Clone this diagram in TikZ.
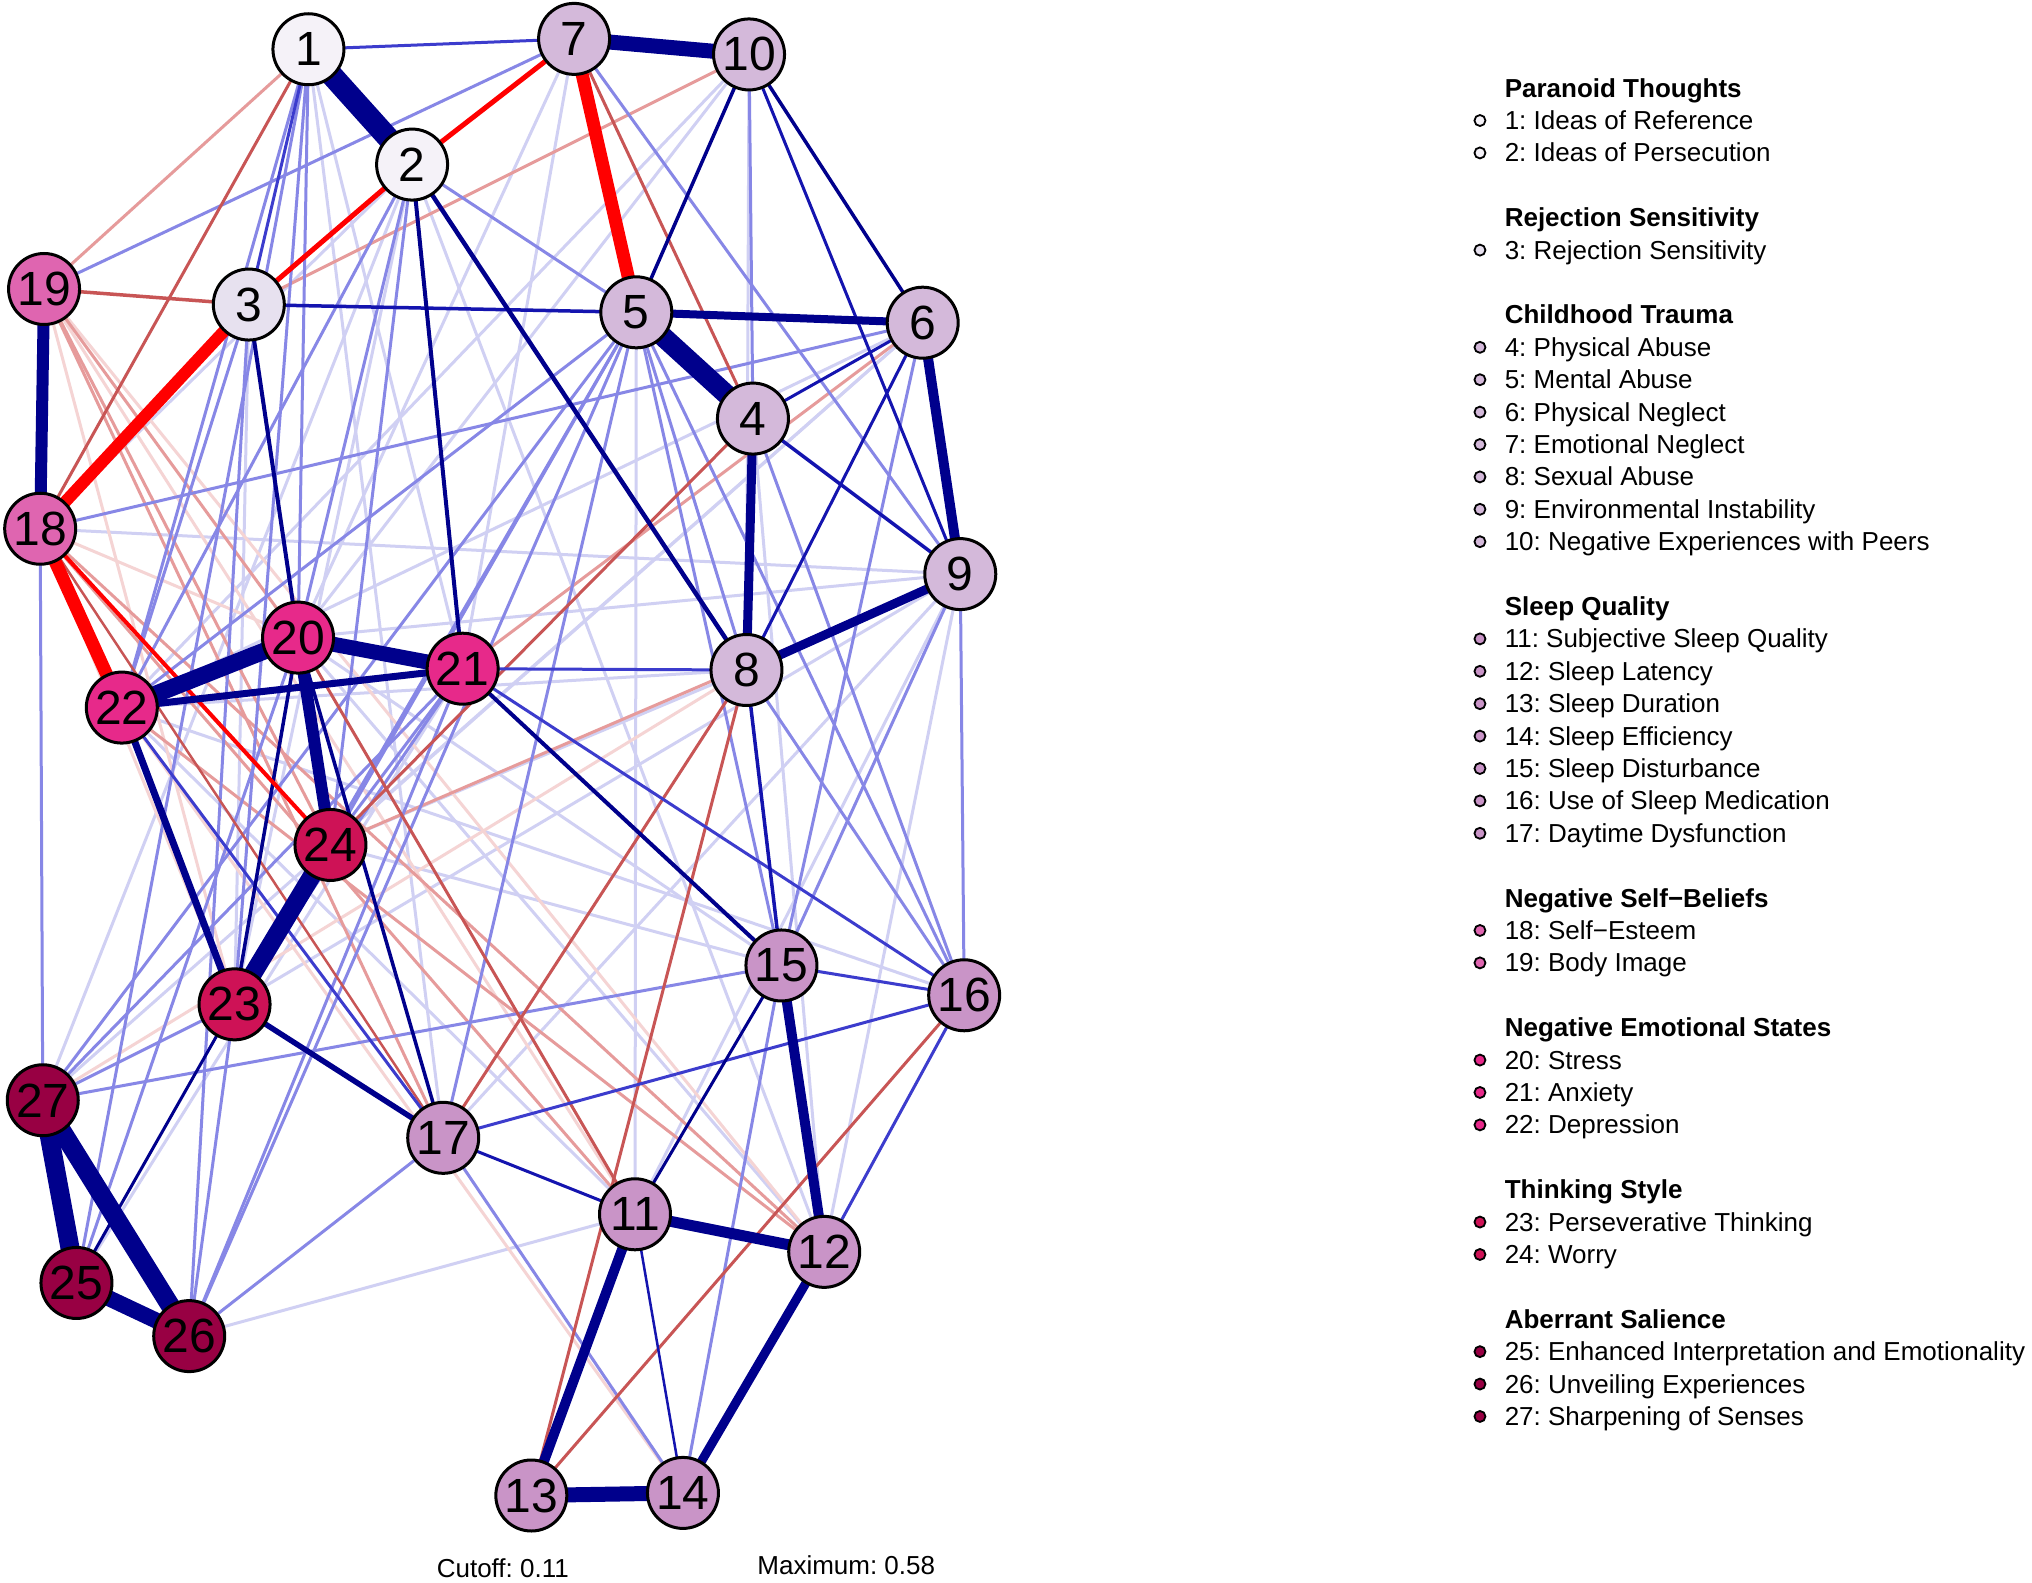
\documentclass[tikz,border=0pt]{standalone}
\usepackage{fontspec}
\setmainfont{Liberation Sans}
\frenchspacing
\pgfdeclarelayer{bg}
\pgfdeclarelayer{edges}
\pgfsetlayers{bg,edges,main}
\definecolor{cPT}{HTML}{F5F2F8}
\definecolor{cRS}{HTML}{E7E1EF}
\definecolor{cCT}{HTML}{D4B9DA}
\definecolor{cSQ}{HTML}{C994C7}
\definecolor{cNS}{HTML}{DF65B0}
\definecolor{cNE}{HTML}{E7298A}
\definecolor{cTS}{HTML}{CE1256}
\definecolor{cAS}{HTML}{980043}
\definecolor{PS}{RGB}{0,0,140}
\definecolor{PD}{RGB}{20,20,175}
\definecolor{PM}{RGB}{60,60,205}
\definecolor{PL}{RGB}{135,135,230}
\definecolor{PF}{RGB}{208,208,243}
\definecolor{NS}{RGB}{255,0,0}
\definecolor{NM}{RGB}{200,85,85}
\definecolor{NL}{RGB}{230,155,155}
\definecolor{NF}{RGB}{245,212,212}
\tikzset{
  vert/.style={circle, draw=black, line width=3pt, minimum size=71pt, inner sep=0pt,
    font=\fontsize{48}{48}\selectfont},
  legdot/.style={circle, draw=black, line width=1.8pt, minimum size=11pt, inner sep=0pt},
  legtxt/.style={anchor=base west, inner sep=0pt, font=\fontsize{26}{26}\selectfont},
  leghead/.style={anchor=base west, inner sep=0pt, font=\fontsize{26}{26}\selectfont\bfseries},
  foot/.style={anchor=base, inner sep=0pt, font=\fontsize{26}{26}\selectfont}
}
\newcommand\nd[4]{\node[vert, fill=#4] (v#1) at (#2,#3) {#1};}
\newcommand\ed[4]{\draw[draw=#3, line width=#4pt] (v#1.center) -- (v#2.center);}
\newcommand\legitem[4]{\node[legdot, fill=#4] (d#1) at (1142,#2) {};\node[legtxt] (t#1) at (1161,#2+7) {#3};}
\begin{document}
\begin{tikzpicture}[x=1.296pt, y=-1.296pt]
\begin{pgfonlayer}{bg}
\fill[white] (0,0) rectangle (1568,1221);
\end{pgfonlayer}
\useasboundingbox (0,0) rectangle (1568,1221);
% nodes
\nd{1}{238}{38}{cPT}
\nd{2}{318}{127}{cPT}
\nd{3}{192}{235}{cRS}
\nd{4}{581}{323}{cCT}
\nd{5}{491}{241}{cCT}
\nd{6}{712}{249}{cCT}
\nd{7}{443}{30}{cCT}
\nd{8}{576}{517}{cCT}
\nd{9}{741}{443}{cCT}
\nd{10}{578}{42}{cCT}
\nd{11}{490}{937}{cSQ}
\nd{12}{636}{966}{cSQ}
\nd{13}{410}{1154}{cSQ}
\nd{14}{527}{1152}{cSQ}
\nd{15}{603}{745}{cSQ}
\nd{16}{744}{768}{cSQ}
\nd{17}{342}{878}{cSQ}
\nd{18}{31}{408}{cNS}
\nd{19}{34}{223}{cNS}
\nd{20}{230}{492}{cNE}
\nd{21}{357}{516}{cNE}
\nd{22}{94}{546}{cNE}
\nd{23}{181}{775}{cTS}
\nd{24}{255}{652}{cTS}
\nd{25}{59}{990}{cAS}
\nd{26}{146}{1031}{cAS}
\nd{27}{33}{849}{cAS}
\begin{pgfonlayer}{edges}
% faint positive
\ed{11}{5}{PF}{3}\ed{3}{23}{PF}{3}\ed{9}{18}{PF}{3}\ed{9}{20}{PF}{3}
\ed{9}{17}{PF}{3}\ed{9}{23}{PF}{3}\ed{9}{12}{PF}{3}\ed{9}{11}{PF}{3}
\ed{12}{4}{PF}{3}\ed{24}{6}{PF}{3}\ed{24}{8}{PF}{3}\ed{2}{27}{PF}{3}
\ed{2}{23}{PF}{3}\ed{2}{18}{PF}{3}\ed{6}{22}{PF}{3}\ed{10}{20}{PF}{3}
\ed{10}{8}{PF}{3}\ed{7}{21}{PF}{3}\ed{1}{17}{PF}{3}\ed{22}{11}{PF}{3}
\ed{12}{20}{PF}{3}\ed{16}{22}{PF}{3}\ed{6}{27}{PF}{3}\ed{8}{22}{PF}{3}
\ed{15}{20}{PF}{3}\ed{15}{24}{PF}{3}\ed{1}{21}{PF}{3}\ed{2}{12}{PF}{3}
\ed{7}{20}{PF}{3}\ed{10}{22}{PF}{3}\ed{26}{11}{PF}{3}\ed{25}{21}{PF}{3}
% light negative
\ed{19}{23}{NF}{3}\ed{19}{11}{NF}{3}\ed{27}{8}{NF}{3}\ed{18}{20}{NF}{3}
\ed{19}{12}{NF}{3}\ed{18}{23}{NF}{3}\ed{22}{14}{NF}{3}
\ed{1}{19}{NL}{3}\ed{3}{10}{NL}{3}\ed{6}{21}{NL}{3}\ed{9}{24}{NL}{3}
\ed{19}{20}{NL}{3}\ed{19}{24}{NL}{3}\ed{19}{17}{NL}{3}\ed{22}{12}{NL}{3}
\ed{18}{12}{NL}{3}\ed{18}{11}{NL}{3}
% light positive
\ed{19}{7}{PL}{3}\ed{2}{5}{PL}{3}\ed{5}{22}{PL}{3}\ed{5}{23}{PL}{3}
\ed{5}{27}{PL}{3}\ed{5}{26}{PL}{3}\ed{5}{17}{PL}{3}\ed{5}{15}{PL}{3}
\ed{5}{16}{PL}{3}\ed{10}{4}{PL}{3}\ed{7}{9}{PL}{3}\ed{6}{15}{PL}{3}
\ed{6}{18}{PL}{3}\ed{9}{16}{PL}{3}\ed{9}{15}{PL}{3}\ed{8}{16}{PL}{3}
\ed{18}{27}{PL}{3}\ed{27}{15}{PL}{3}\ed{27}{23}{PL}{3}\ed{25}{1}{PL}{3}
\ed{25}{20}{PL}{3}\ed{26}{21}{PL}{3}\ed{26}{17}{PL}{3}\ed{26}{23}{PL}{3}
\ed{21}{23}{PL}{3}\ed{21}{27}{PL}{3}\ed{24}{21}{PL}{3}\ed{24}{5}{PL}{3}
\ed{3}{22}{PL}{3}\ed{3}{26}{PL}{3}\ed{1}{20}{PL}{3}\ed{1}{23}{PL}{3}
\ed{1}{22}{PL}{3}\ed{15}{14}{PL}{3}\ed{17}{14}{PL}{3}\ed{16}{4}{PL}{3}
\ed{2}{22}{PL}{3}\ed{2}{24}{PL}{3}\ed{2}{20}{PL}{3}\ed{5}{8}{PL}{3}
% medium negative
\ed{3}{19}{NM}{3.5}\ed{4}{7}{NM}{3}\ed{1}{18}{NM}{3}\ed{4}{24}{NM}{3}
\ed{8}{17}{NM}{3}\ed{8}{13}{NM}{3}\ed{16}{13}{NM}{3}\ed{20}{11}{NM}{3}
\ed{18}{17}{NM}{2.5}
% medium positive
\ed{3}{5}{PD}{3.5}\ed{9}{10}{PD}{3}\ed{4}{6}{PD}{3}\ed{4}{9}{PD}{3.5}
\ed{6}{8}{PD}{3}\ed{22}{17}{PM}{3}\ed{21}{16}{PM}{3}\ed{15}{16}{PM}{3}
\ed{12}{16}{PM}{3}\ed{17}{16}{PM}{3}\ed{1}{7}{PM}{3}\ed{1}{3}{PM}{3}
\ed{8}{21}{PM}{3}
% dark thin positive
\ed{2}{8}{PS}{4.5}\ed{2}{21}{PS}{4}\ed{3}{20}{PS}{4}\ed{5}{10}{PS}{3.5}
\ed{6}{10}{PS}{3.5}\ed{8}{15}{PD}{3.5}\ed{15}{21}{PS}{4}\ed{20}{23}{PS}{3.5}
\ed{20}{17}{PS}{3.5}\ed{23}{25}{PS}{3}\ed{11}{15}{PS}{3}\ed{11}{14}{PD}{2.5}
\ed{17}{11}{PD}{3}
% strong negative
\ed{5}{7}{NS}{13}\ed{3}{18}{NS}{12}\ed{18}{22}{NS}{13}\ed{2}{7}{NS}{5}
\ed{2}{3}{NS}{5}\ed{18}{24}{NS}{4}
% strong positive
\ed{1}{2}{PS}{22}\ed{7}{10}{PS}{15}\ed{4}{5}{PS}{20}\ed{5}{6}{PS}{8}
\ed{6}{9}{PS}{10}\ed{8}{9}{PS}{9}\ed{4}{8}{PS}{9}\ed{18}{19}{PS}{12}
\ed{20}{22}{PS}{17}\ed{20}{21}{PS}{15}\ed{21}{22}{PS}{7}\ed{20}{24}{PS}{12}
\ed{23}{24}{PS}{18}\ed{25}{27}{PS}{19}\ed{26}{27}{PS}{19}\ed{25}{26}{PS}{16}
\ed{11}{12}{PS}{11}\ed{12}{15}{PS}{10}\ed{11}{13}{PS}{10}\ed{13}{14}{PS}{15}
\ed{12}{14}{PS}{9}\ed{22}{23}{PS}{7}\ed{17}{23}{PS}{5.5}
\end{pgfonlayer}
% legend
\node[leghead] (h1) at (1161,75) {Paranoid Thoughts};
\legitem{1}{93}{1: Ideas of Reference}{cPT}
\legitem{2}{118}{2: Ideas of Persecution}{cPT}
\node[leghead] (h2) at (1161,175) {Rejection Sensitivity};
\legitem{3}{193}{3: Rejection Sensitivity}{cRS}
\node[leghead] (h3) at (1161,250) {Childhood Trauma};
\legitem{4}{268}{4: Physical Abuse}{cCT}
\legitem{5}{293}{5: Mental Abuse}{cCT}
\legitem{6}{318}{6: Physical Neglect}{cCT}
\legitem{7}{343}{7: Emotional Neglect}{cCT}
\legitem{8}{368}{8: Sexual Abuse}{cCT}
\legitem{9}{393}{9: Environmental Instability}{cCT}
\legitem{10}{418}{10: Negative Experiences with Peers}{cCT}
\node[leghead] (h4) at (1161,475) {Sleep Quality};
\legitem{11}{493}{11: Subjective Sleep Quality}{cSQ}
\legitem{12}{518}{12: Sleep Latency}{cSQ}
\legitem{13}{543}{13: Sleep Duration}{cSQ}
\legitem{14}{568}{14: Sleep Efficiency}{cSQ}
\legitem{15}{593}{15: Sleep Disturbance}{cSQ}
\legitem{16}{618}{16: Use of Sleep Medication}{cSQ}
\legitem{17}{643}{17: Daytime Dysfunction}{cSQ}
\node[leghead] (h5) at (1161,700) {Negative Self−Beliefs};
\legitem{18}{718}{18: Self−Esteem}{cNS}
\legitem{19}{743}{19: Body Image}{cNS}
\node[leghead] (h6) at (1161,800) {Negative Emotional States};
\legitem{20}{818}{20: Stress}{cNE}
\legitem{21}{843}{21: Anxiety}{cNE}
\legitem{22}{868}{22: Depression}{cNE}
\node[leghead] (h7) at (1161,925) {Thinking Style};
\legitem{23}{943}{23: Perseverative Thinking}{cTS}
\legitem{24}{968}{24: Worry}{cTS}
\node[leghead] (h8) at (1161,1025) {Aberrant Salience};
\legitem{25}{1043}{25: Enhanced Interpretation and Emotionality}{cAS}
\legitem{26}{1068}{26: Unveiling Experiences}{cAS}
\legitem{27}{1093}{27: Sharpening of Senses}{cAS}
% footer
\node[foot] (cut) at (388,1217) {Cutoff: 0.11};
\node[foot] (max) at (653,1215) {Maximum: 0.58};
\end{tikzpicture}
\end{document}
